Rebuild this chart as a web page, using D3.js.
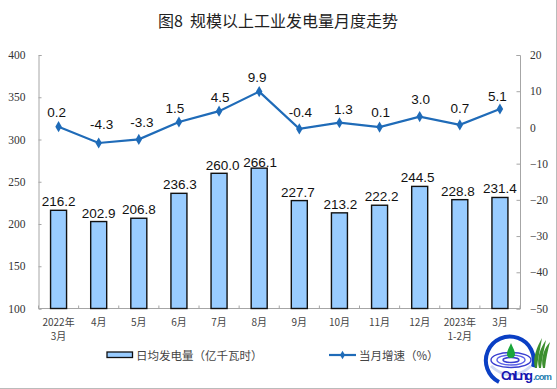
<!DOCTYPE html>
<html>
<head>
<meta charset="utf-8">
<script src="https://cdn.jsdelivr.net/npm/d3@7"></script>
<style>
  html, body { margin: 0; padding: 0; background: #fff; }
  svg { display: block; }
  text { font-family: "Liberation Sans", Arial, sans-serif; }
  .cjk { font-family: "Noto Sans CJK SC", sans-serif; }
  .tick-label { font-family: "Liberation Serif", serif; font-size: 11.5px; fill: #333; }
  .value { font-size: 13.5px; fill: #111; text-anchor: middle; }
</style>
</head>
<body>
<svg id="chart" width="557" height="389"></svg>
<script>
const categories = ["2022年|3月", "4月", "5月", "6月", "7月", "8月", "9月", "10月", "11月", "12月", "2023年|1-2月", "3月"];
const output = [216.2, 202.9, 206.8, 236.3, 260.0, 266.1, 227.7, 213.2, 222.2, 244.5, 228.8, 231.4];
const growth = [0.2, -4.3, -3.3, 1.5, 4.5, 9.9, -0.4, 1.3, 0.1, 3.0, 0.7, 5.1];
const leftTicks = [100, 150, 200, 250, 300, 350, 400];
const rightTicks = [-50, -40, -30, -20, -10, 0, 10, 20];

const LEFT = 38.5, RIGHT = 520, TOP = 55, BOTTOM = 308.5;
const AXIS_COLOR = "#a6a6a6", LINE_COLOR = "#1f6bb8", BAR_COLOR = "#99ccff";

const svg = d3.select("#chart");

const x = d3.scaleBand().domain(d3.range(categories.length)).range([LEFT, RIGHT]);
const yLeft = d3.scaleLinear().domain([100, 400]).range([BOTTOM, TOP]);
const yRight = d3.scaleLinear().domain([-50, 20]).range([BOTTOM, TOP]);
const cx = i => x(i) + x.bandwidth() / 2;

// hand placed labels, the original was nudged so they do not touch
const barLabelNudge = {3: [1, 0], 4: [3.5, 1], 5: [1, 3], 6: [-1.5, 0], 7: [1, 0], 8: [2, 0], 9: [-2, 0], 10: [-2, 0]};
const lineLabelGap = [10, 14.5, 12, 9, 9, 10, 11.5, 8.5, 10, 13, 12, 8];
const lineLabelShift = [-2, 3, 3, -4, 1, -2, 1, 4, 1, 1, 0, -2.5];

svg.append("text").attr("class", "cjk")
  .attr("x", 278).attr("y", 27).attr("text-anchor", "middle")
  .attr("font-size", 16).attr("fill", "#222").attr("xml:space", "preserve")
  .text("图8  规模以上工业发电量月度走势");

// axes
const styleAxis = g => {
  g.selectAll("path, line").attr("stroke", AXIS_COLOR).attr("stroke-width", 1);
  g.selectAll("text").attr("class", "tick-label");
};

svg.append("g").attr("transform", `translate(${LEFT},0)`)
  .call(d3.axisRight(yLeft).tickValues(leftTicks).tickSize(3).tickSizeOuter(3))
  .call(styleAxis)
  .call(g => g.selectAll("text").attr("x", -13).attr("text-anchor", "end"));

svg.append("g").attr("transform", `translate(${RIGHT},0)`)
  .call(d3.axisLeft(yRight).tickValues(rightTicks).tickSize(3.5).tickSizeOuter(3.5))
  .call(styleAxis)
  .call(g => g.selectAll("text").attr("x", 10).attr("text-anchor", "start"));

svg.append("line").attr("x1", LEFT).attr("x2", RIGHT).attr("y1", BOTTOM).attr("y2", BOTTOM)
  .attr("stroke", AXIS_COLOR);
svg.append("g").selectAll("line").data(d3.range(categories.length + 1)).join("line")
  .attr("x1", i => i < categories.length ? x(i) : RIGHT)
  .attr("x2", i => i < categories.length ? x(i) : RIGHT)
  .attr("y1", BOTTOM).attr("y2", BOTTOM - 3).attr("stroke", AXIS_COLOR);

// category labels
svg.append("g").selectAll("text").data(categories).join("text")
  .attr("class", "cjk")
  .attr("font-size", 10).attr("fill", "#444").attr("text-anchor", "middle")
  .each(function(d, i) {
    d3.select(this).selectAll("tspan").data(d.split("|")).join("tspan")
      .attr("x", cx(i)).attr("y", (s, k) => 326 + k * 13.5).text(s => s);
  });

// bars
const barWidth = 16;
svg.append("g").selectAll("rect").data(output).join("rect")
  .attr("x", (d, i) => cx(i) - barWidth / 2)
  .attr("width", barWidth)
  .attr("y", d => yLeft(d))
  .attr("height", d => BOTTOM - yLeft(d))
  .attr("fill", BAR_COLOR).attr("stroke", "#111").attr("stroke-width", 1.4);

svg.append("g").selectAll("text").data(output).join("text")
  .attr("class", "value")
  .attr("x", (d, i) => cx(i) + (barLabelNudge[i] ? barLabelNudge[i][0] : 0))
  .attr("y", (d, i) => yLeft(d) - 4 + (barLabelNudge[i] ? barLabelNudge[i][1] : 0))
  .text(d => d.toFixed(1));

// growth line
const line = d3.line().x((d, i) => cx(i)).y(d => yRight(d));
svg.append("path").datum(growth).attr("d", line)
  .attr("fill", "none").attr("stroke", LINE_COLOR).attr("stroke-width", 2.2);
const diamond = d3.symbol().type(d3.symbolDiamond).size(36);
svg.append("g").selectAll("path").data(growth).join("path")
  .attr("d", diamond)
  .attr("transform", (d, i) => `translate(${cx(i)},${yRight(d)})`)
  .attr("fill", LINE_COLOR);

svg.append("g").selectAll("text").data(growth).join("text")
  .attr("class", "value")
  .attr("x", (d, i) => cx(i) + lineLabelShift[i])
  .attr("y", (d, i) => yRight(d) - lineLabelGap[i])
  .text(d => d.toFixed(1));

// legend
svg.append("rect").attr("x", 107).attr("y", 352).attr("width", 25.5).attr("height", 5.5)
  .attr("fill", BAR_COLOR).attr("stroke", "#111").attr("stroke-width", 1.3);
svg.append("text").attr("class", "cjk").attr("x", 136).attr("y", 360)
  .attr("font-size", 11.5).attr("fill", "#444").text("日均发电量（亿千瓦时）");
svg.append("line").attr("x1", 329).attr("x2", 356).attr("y1", 355).attr("y2", 355)
  .attr("stroke", LINE_COLOR).attr("stroke-width", 2.2);
svg.append("path").attr("d", d3.symbol().type(d3.symbolDiamond).size(22))
  .attr("transform", "translate(342.5,355)").attr("fill", LINE_COLOR);
svg.append("text").attr("class", "cjk").attr("x", 359).attr("y", 360)
  .attr("font-size", 11.5).attr("fill", "#444").text("当月增速（%）");

// logo
const logo = svg.append("g");
logo.append("path").attr("d", "M499,382 A24,24 0 1 1 533,367")
  .attr("fill", "none").attr("stroke", "#0a3fc4").attr("stroke-width", 4);
logo.append("path").attr("d", "M491,366 Q511,384 531,366")
  .attr("fill", "none").attr("stroke", "#cfd8f5").attr("stroke-width", 3);
[[20, 7.5, "#3a3fd0"], [14, 5, "#5a60e8"], [8, 2.5, "#3a3fd0"]].forEach(r => {
  logo.append("ellipse").attr("cx", 511).attr("cy", 360).attr("rx", r[0]).attr("ry", r[1])
    .attr("fill", "none").attr("stroke", r[2]).attr("stroke-width", 1.4);
});
logo.append("path").attr("d", "M511,343 C513,348 515,351 515,354 A4,4 0 0 1 507,354 C507,351 509,348 511,343 Z")
  .attr("fill", "#1aa53a");
logo.append("g").selectAll("path").data([0, 4, 8]).join("path")
  .attr("d", d => `M${535 + d},368 C${532 + d},358 ${537 + d},347 ${542 + d},${338 + d / 2} C${540 + d},350 ${538 + d},358 ${537 + d},368 Z`)
  .attr("fill", "#3c8f2e");
logo.append("text").attr("x", 501).attr("y", 380).attr("font-size", 13).attr("font-weight", "bold")
  .attr("fill", "#1515b0").attr("textLength", 32).text("CnLng");
logo.append("text").attr("x", 533).attr("y", 380).attr("font-size", 9.5).attr("font-weight", "bold")
  .attr("fill", "#1e7fb0").attr("textLength", 19).text(".com");

// thin picture border on the right and bottom
svg.append("path").attr("d", "M556.5,0V388.5H0").attr("fill", "none").attr("stroke", "#bbb");
</script>
</body>
</html>
